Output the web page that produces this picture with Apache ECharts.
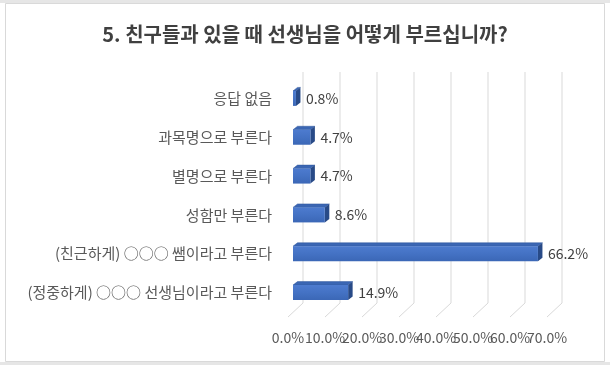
<!DOCTYPE html>
<html>
<head>
<meta charset="utf-8">
<script src="https://cdn.jsdelivr.net/npm/echarts@6/dist/echarts.min.js"></script>
<style>
html,body{margin:0;padding:0;background:#fff;}
#chart{width:610px;height:365px;}
</style>
</head>
<body>
<div id="chart"></div>
<script>
const titleText = '5. 친구들과 있을 때 선생님을 어떻게 부르십니까?';
const categories = ['응답 없음', '과목명으로 부른다', '별명으로 부른다', '성함만 부른다', '(친근하게) ○○○ 쌤이라고 부른다', '(정중하게) ○○○ 선생님이라고 부른다'];
const values = [0.8, 4.7, 4.7, 8.6, 66.2, 14.9];
const tickValues = [0, 10, 20, 30, 40, 50, 60, 70];

const FONT = '"Noto Sans CJK KR", "Noto Sans", sans-serif';
const chart = echarts.init(document.getElementById('chart'), null, {renderer: 'canvas'});

const barH = 15, dx = 4.5, dy = 3.5;

const option = {
  backgroundColor: '#ffffff',
  animation: false,
  graphic: [
    {type: 'rect', shape: {x: 0, y: 0, width: 610, height: 3}, style: {fill: '#e6e6e6'}, silent: true, z: -10},
    {type: 'rect', shape: {x: 0, y: 362, width: 610, height: 3}, style: {fill: '#e6e6e6'}, silent: true, z: -10},
    {type: 'rect', shape: {x: 5.5, y: 3.5, width: 599, height: 358}, style: {fill: '#ffffff', stroke: '#d9d9d9', lineWidth: 1}, silent: true, z: -9}
  ],
  title: {
    text: titleText,
    left: 'center',
    top: 19,
    textStyle: {fontFamily: FONT, fontSize: 20, fontWeight: 'bold', color: '#404040'}
  },
  grid: {left: 293, right: 58, top: 79, bottom: 53, containLabel: false},
  xAxis: {
    type: 'value',
    min: 0, max: 70, interval: 10,
    axisLine: {show: false},
    axisTick: {show: false},
    splitLine: {show: false},
    axisLabel: {show: false}
  },
  yAxis: {
    type: 'category',
    data: categories,
    inverse: true,
    axisLine: {show: false},
    axisTick: {show: false},
    axisLabel: {fontFamily: FONT, fontSize: 15, color: '#595959', margin: 21, padding: [12, 0, 0, 0]}
  },
  series: [
    {
      type: 'custom',
      z: 1,
      silent: true,
      data: tickValues.map(v => [v, 0]),
      clip: false,
      renderItem: function (params, api) {
        const v = api.value(0);
        const p = api.coord([v, 0])[0];
        const cs = params.coordSys;
        const top = cs.y, bottom = cs.y + cs.height;
        return {
          type: 'group',
          children: [
            {type: 'polyline',
              shape: {points: [[p + 10, top - 7], [p + 10, bottom - 9], [p - 5, bottom + 5]]},
              style: {stroke: '#d9d9d9', lineWidth: 1, fill: null}},
            {type: 'text', x: p - 5, y: bottom + 26,
              style: {text: v.toFixed(1) + '%', fontFamily: FONT, fontSize: 14, fill: '#595959',
                align: 'center', verticalAlign: 'middle'}}
          ]
        };
      }
    },
    {
      type: 'custom',
      z: 5,
      data: values.map((v, i) => [v, i]),
      clip: false,
      renderItem: function (params, api) {
        const v = api.value(0), idx = api.value(1);
        const s = api.coord([0, idx]);
        const e = api.coord([v, idx]);
        const x0 = s[0], x1 = e[0];
        const y0 = s[1] - barH / 2, y1 = y0 + barH;
        return {
          type: 'group',
          children: [
            {type: 'polygon', shape: {points: [[x0, y0], [x1, y0], [x1 + dx, y0 - dy], [x0 + dx, y0 - dy]]},
              style: {fill: '#3b66b3', stroke: '#2f569c', lineWidth: 0.5}},
            {type: 'polygon', shape: {points: [[x1, y0], [x1 + dx, y0 - dy], [x1 + dx, y1 - dy], [x1, y1]]},
              style: {fill: '#284a87'}},
            {type: 'rect', shape: {x: x0, y: y0, width: x1 - x0, height: barH},
              style: {fill: new echarts.graphic.LinearGradient(0, 0, 0, 1, [
                {offset: 0, color: '#4d7bcf'}, {offset: 0.5, color: '#4472c4'}, {offset: 1, color: '#3b67b6'}
              ])}},
            {type: 'text', x: x1 + 10, y: s[1],
              style: {text: v.toFixed(1) + '%', fontFamily: FONT, fontSize: 14, fill: '#404040',
                verticalAlign: 'middle', align: 'left'}}
          ]
        };
      }
    }
  ]
};
chart.setOption(option);
</script>
</body>
</html>
